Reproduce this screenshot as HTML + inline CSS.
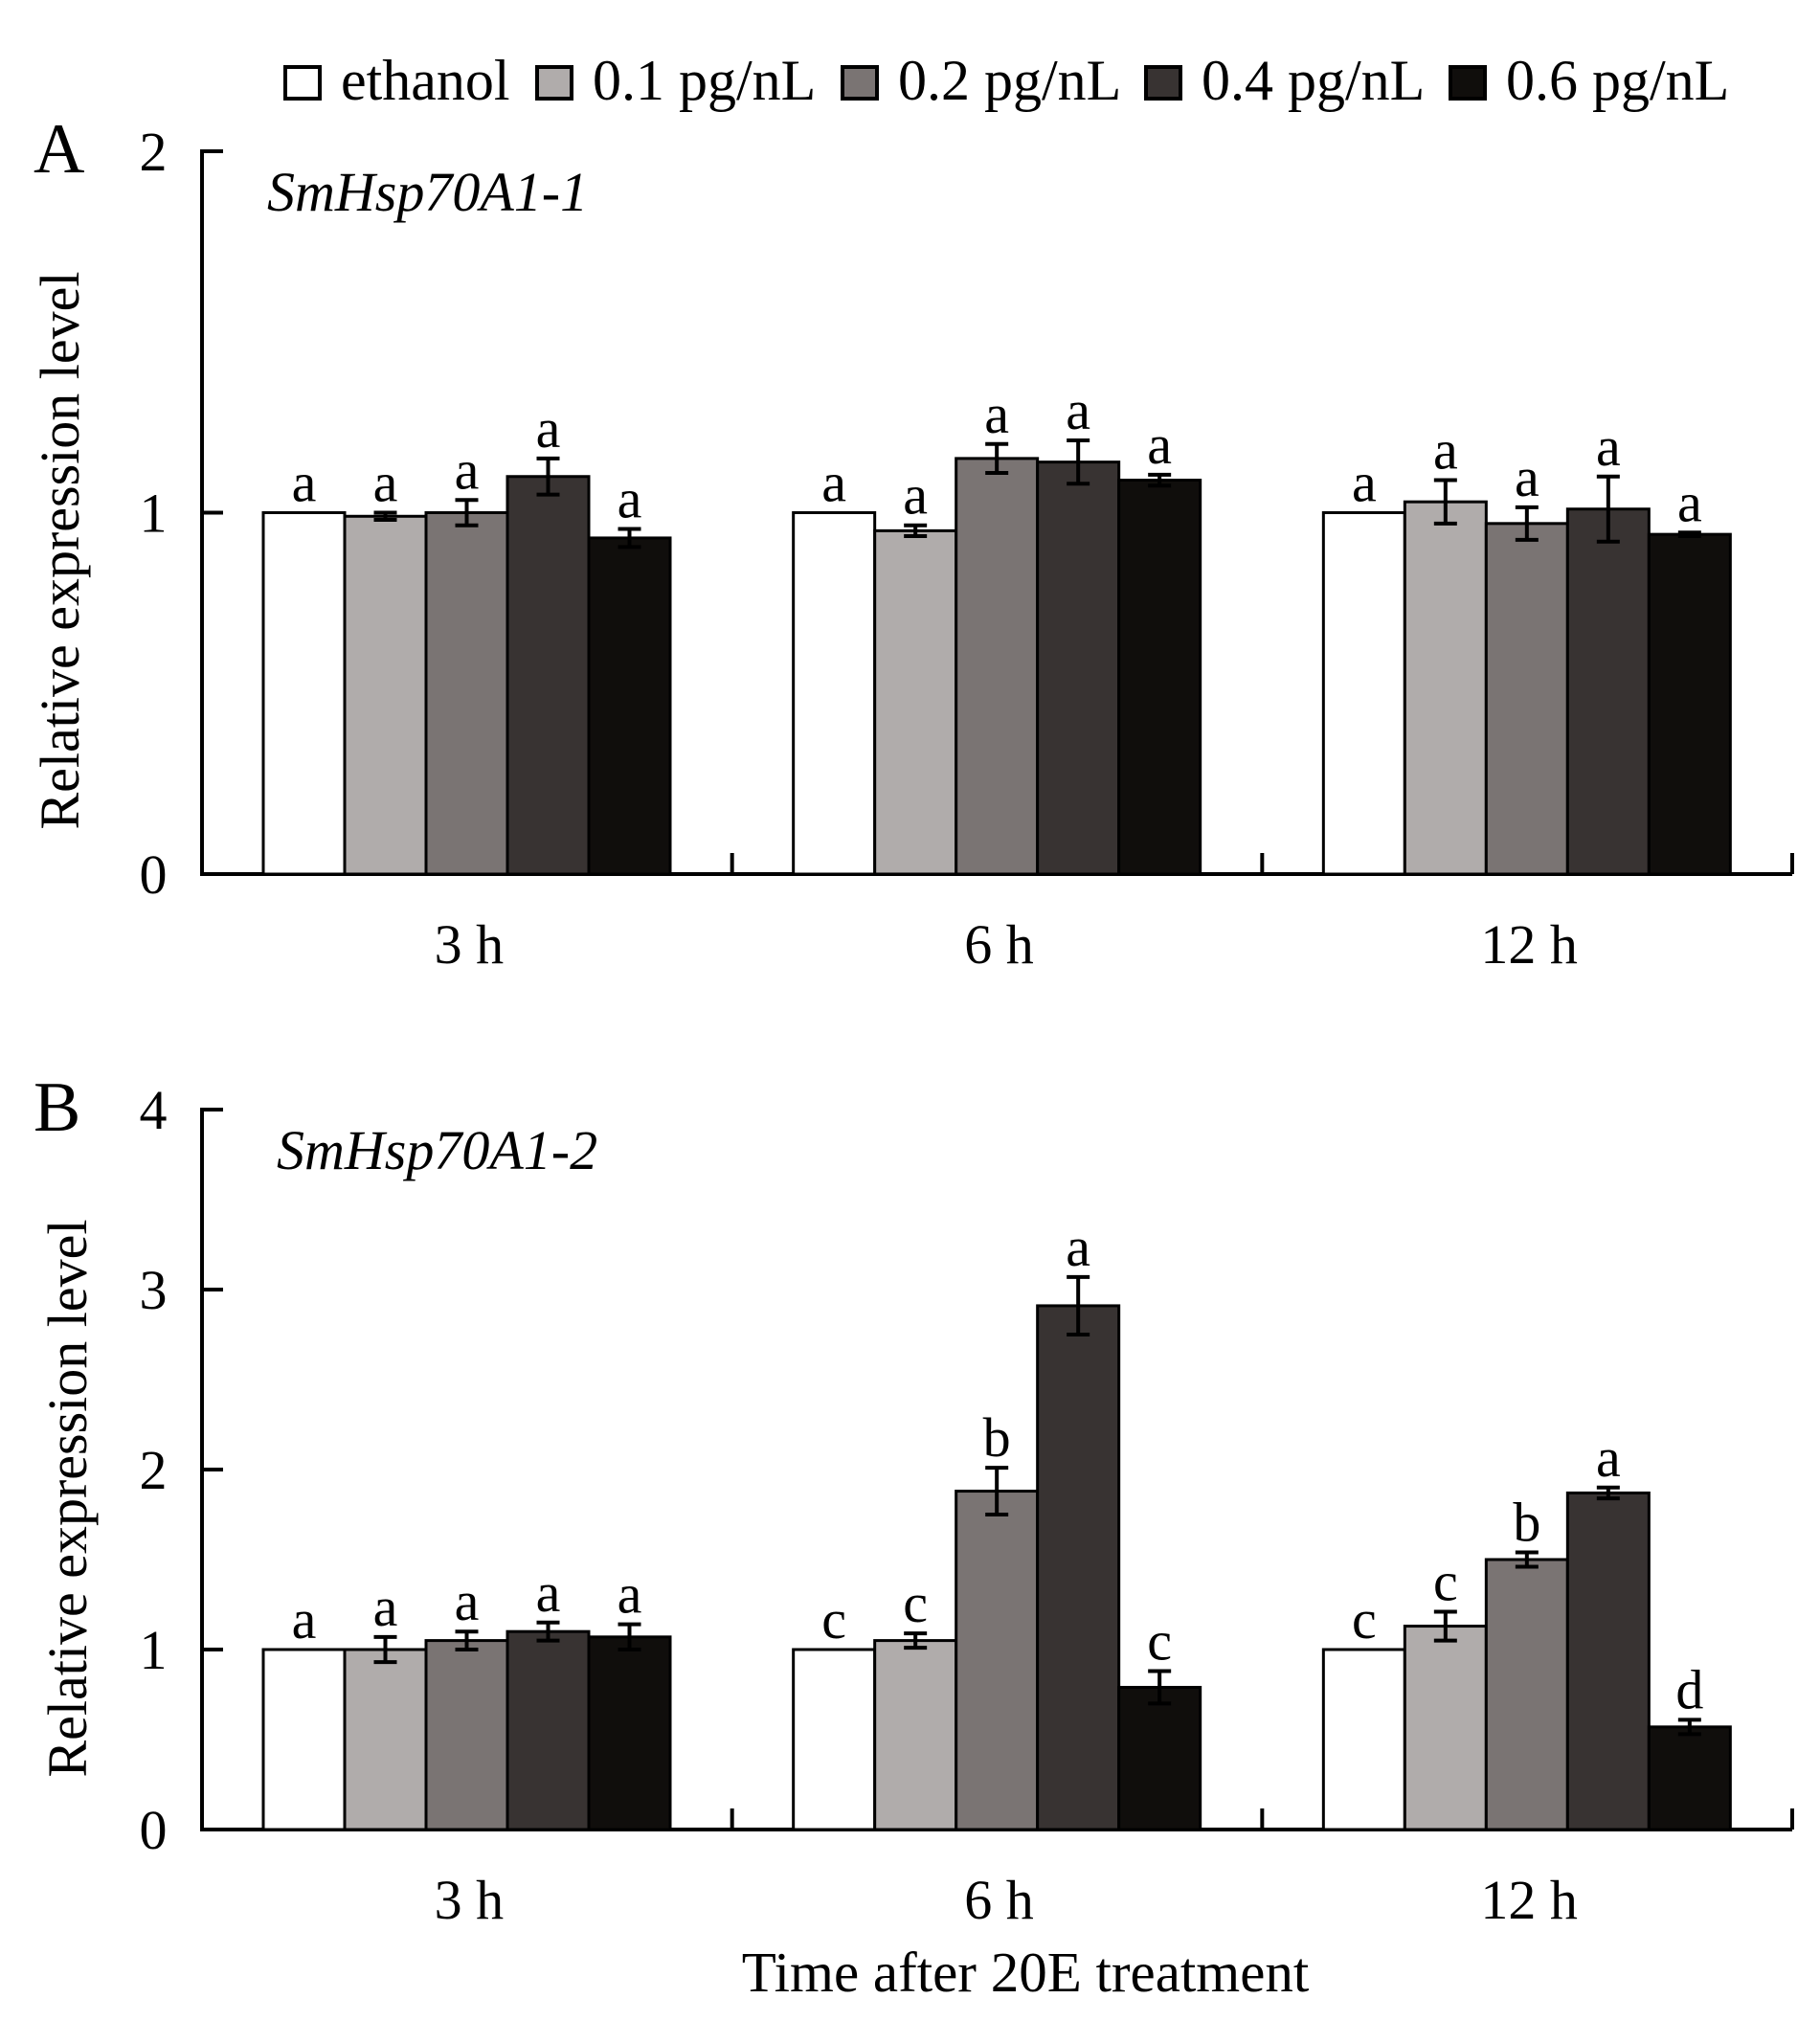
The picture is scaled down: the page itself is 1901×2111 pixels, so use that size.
<!DOCTYPE html>
<html><head><meta charset="utf-8"><style>body{margin:0;background:#fff}svg{display:block}</style></head>
<body>
<svg id="chart" width="1901" height="2111" viewBox="0 0 1901 2111" xmlns="http://www.w3.org/2000/svg" font-family="'Liberation Serif', serif"></svg>
<script>
const groups = ["3 h", "6 h", "12 h"];
const series = ["ethanol", "0.1 pg/nL", "0.2 pg/nL", "0.4 pg/nL", "0.6 pg/nL"];
const colors = ["#ffffff", "#b0acab", "#7a7473", "#383332", "#100e0c"];
const valuesA = [[1.0,0.99,1.0,1.1,0.93],[1.0,0.95,1.15,1.14,1.09],[1.0,1.03,0.97,1.01,0.94]];
const errorsA = [[0,0.01,0.035,0.05,0.025],[0,0.015,0.04,0.06,0.015],[0,0.06,0.045,0.09,0.005]];
const lettersA = [["a","a","a","a","a"],["a","a","a","a","a"],["a","a","a","a","a"]];
const valuesB = [[1.0,1.0,1.05,1.1,1.07],[1.0,1.05,1.88,2.91,0.79],[1.0,1.13,1.5,1.87,0.57]];
const errorsB = [[0,0.07,0.05,0.05,0.07],[0,0.04,0.13,0.16,0.09],[0,0.08,0.04,0.03,0.04]];
const lettersB = [["a","a","a","a","a"],["c","c","b","a","c"],["c","c","b","a","d"]];
const ticksA = [0,1,2];
const ticksB = [0,1,2,3,4];

const svg = document.getElementById('chart');
const NS = "http://www.w3.org/2000/svg";
function mk(tag, attrs, text){
  const e = document.createElementNS(NS, tag);
  for (const k in attrs) e.setAttribute(k, attrs[k]);
  if (text !== undefined) e.textContent = text;
  svg.appendChild(e);
  return e;
}

// legend
const legX = [298, 561, 880, 1197, 1515];
series.forEach((s, i) => {
  const r = mk('rect', {x: legX[i], y: 70, width: 36, height: 33, fill: colors[i], stroke: '#000', 'stroke-width': 4});
  
  
  const t = mk('text', {x: legX[i] + 58, y: 104, 'font-size': 60}, s);
  
  
});

function panel(p){
  const x0 = 211, x1 = 1872, gw = (x1 - x0) / 3;
  const y = v => p.y0 - (v / p.max) * (p.y0 - p.yTop);
  const ax = mk('path', {d: `M${x0+22},${p.yTop} H${x0} V${p.y0} H${x1}`, fill: 'none', stroke: '#000', 'stroke-width': 4});
  
  
  p.ticks.forEach(t => {
    const tk = mk('line', {x1: x0, x2: x0 + 22, y1: y(t), y2: y(t), stroke: '#000', 'stroke-width': 4});
    
    
    const tl = mk('text', {x: 160, y: y(t) + 20, 'font-size': 58, 'text-anchor': 'middle'}, String(t));
    
    
  });
  for (let g = 1; g <= 3; g++){
    const gt = mk('line', {x1: x0 + g*gw, x2: x0 + g*gw, y1: p.y0, y2: p.y0 - 22, stroke: '#000', 'stroke-width': 4});
    
    
  }
  groups.forEach((gname, g) => {
    const gx = x0 + g*gw + 64;
    const bw = 85;
    p.vals[g].forEach((v, i) => {
      const bx = gx + i*bw;
      const b = mk('rect', {x: bx, y: y(v), width: bw, height: p.y0 - y(v), fill: colors[i], stroke: '#000', 'stroke-width': 3});
      
      
      const e = p.errs[g][i];
      const cx = bx + bw/2;
      if (e > 0){
        const eb = mk('path', {d: `M${cx},${y(v+e)} V${y(v-e)} M${cx-12},${y(v+e)} H${cx+12} M${cx-12},${y(v-e)} H${cx+12}`, stroke: '#000', 'stroke-width': 4, fill: 'none'});
        
        
      }
      const lt = mk('text', {x: cx, y: y(v+e) - 12, 'font-size': 58, 'text-anchor': 'middle'}, p.letters[g][i]);
      
      
    });
    const gl = mk('text', {x: x0 + g*gw + gw/2 + 2, y: p.y0 + 93, 'font-size': 58, 'text-anchor': 'middle'}, gname);
    
    
  });
  const pl = mk('text', {x: 35, y: p.yTop + 22, 'font-size': 74}, p.label);
  
  
  const ti = mk('text', {x: p.titleX, y: p.yTop + 62, 'font-size': 58, 'font-style': 'italic'}, p.title);
  
  
  const yc = p.ytY;
  const yt = mk('text', {x: p.ytX, y: yc, 'font-size': 58, 'text-anchor': 'middle', transform: `rotate(-90 ${p.ytX} ${yc})`}, 'Relative expression level');
  
  
}
panel({id:'panel-a', y0:913, yTop:158, max:2, ticks:ticksA, vals:valuesA, errs:errorsA, letters:lettersA, label:'A', title:'SmHsp70A1-1', titleX:279, ytX:82, ytY:575});
panel({id:'panel-b', y0:1911, yTop:1159, max:4, ticks:ticksB, vals:valuesB, errs:errorsB, letters:lettersB, label:'B', title:'SmHsp70A1-2', titleX:289, ytX:90, ytY:1565});
const xt = mk('text', {x: 1071, y: 2080, 'font-size': 59, 'text-anchor': 'middle'}, 'Time after 20E treatment');


</script>
</body></html>
